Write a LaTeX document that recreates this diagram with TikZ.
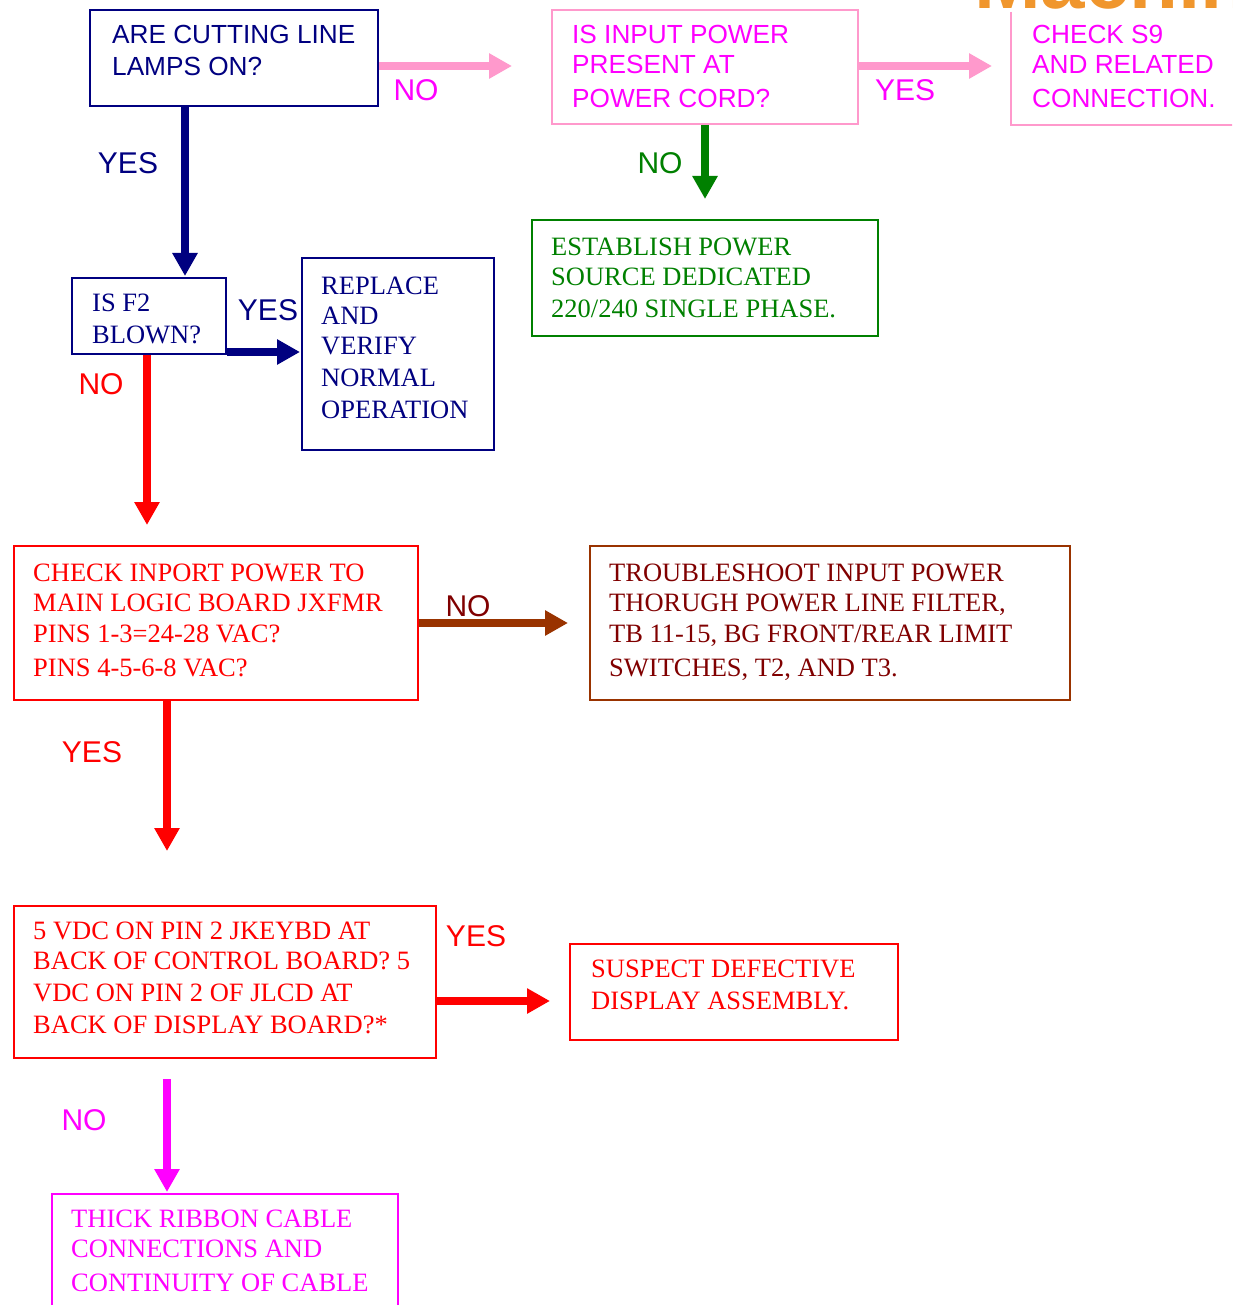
\documentclass[tikz,border=0pt]{standalone}
\usepackage{fontspec}
\setmainfont{Liberation Serif}
\setsansfont{Liberation Sans}
\usetikzlibrary{arrows.meta,calc}
\definecolor{navyc}{HTML}{000080}
\definecolor{pinkc}{HTML}{FF99CC}
\definecolor{magc}{HTML}{FF00FF}
\definecolor{greenc}{HTML}{008000}
\definecolor{redc}{HTML}{FF0000}
\definecolor{brownc}{HTML}{993300}
\definecolor{dredc}{HTML}{800000}
\definecolor{orangec}{HTML}{F0962D}
\begin{document}
\begin{tikzpicture}[x=1pt,y=-1pt,
  box/.style={draw=#1, line width=2pt, rectangle, inner sep=0pt, anchor=north west},
  txt/.style={anchor=north west, inner sep=0pt, align=left, text=#1},
  sans/.style={font=\sffamily\fontsize{26.2}{30}\selectfont},
  serif/.style={font=\rmfamily\fontsize{26.5}{30}\selectfont},
  lbl/.style={font=\sffamily\fontsize{30}{30}\selectfont, text=#1, inner sep=0pt},
  arr/.style={line width=8pt, draw=#1, -{Triangle[length=23pt,width=24pt]}}
]
\useasboundingbox (0,0) rectangle (1232,1305);
\begin{scope}
\clip (0,0) rectangle (1232,1305);
\node[font=\sffamily\bfseries\fontsize{80}{80}\selectfont, text=orangec, anchor=base west, inner sep=0pt] (logo) at (974,9) {Machine};

% boxes
\node[box=navyc, minimum width=288pt, minimum height=96pt] (A) at (89,9) {};
\node[box=pinkc, minimum width=306pt, minimum height=114pt] (B) at (551,9) {};
\node[box=none, draw=none, minimum width=240pt, minimum height=111pt] (C) at (1011,12) {};
\draw[pinkc, line width=2pt] (C.north west) -- (C.south west) -- (C.south east);
\node[box=greenc, minimum width=346pt, minimum height=116pt] (D) at (531,219) {};
\node[box=navyc, minimum width=154pt, minimum height=76pt] (E) at (71,277) {};
\node[box=navyc, minimum width=192pt, minimum height=192pt] (F) at (301,257) {};
\node[box=redc, minimum width=404pt, minimum height=154pt] (G) at (13,545) {};
\node[box=brownc, minimum width=480pt, minimum height=154pt] (H) at (589,545) {};
\node[box=redc, minimum width=422pt, minimum height=152pt] (I) at (13,905) {};
\node[box=redc, minimum width=328pt, minimum height=96pt] (J) at (569,943) {};
\node[box=magc, minimum width=346pt, minimum height=130pt] (K) at (51,1193) {};

% texts
\node[txt=navyc, sans] (At) at (112,25) {ARE CUTTING LINE\\[2pt]LAMPS ON?};
\node[txt=magc, sans] (Bt) at (572,25) {IS INPUT POWER\\PRESENT AT\\[4pt]POWER CORD?};
\node[txt=magc, sans] (Ct) at (1032,25) {CHECK S9\\AND RELATED\\[4pt]CONNECTION.};
\node[txt=greenc, serif] (Dt) at (551,238) {ESTABLISH POWER\\SOURCE DEDICATED\\[2pt]220/240 SINGLE PHASE.};
\node[txt=navyc, serif] (Et) at (92,294) {IS F2\\[2pt]BLOWN?};
\node[txt=navyc, serif] (Ft) at (321,277) {REPLACE\\AND\\VERIFY\\[2pt]NORMAL\\[2pt]OPERATION};
\node[txt=redc, serif] (Gt) at (33,564) {CHECK INPORT POWER TO\\MAIN LOGIC BOARD JXFMR\\[1pt]PINS 1-3=24-28 VAC?\\[4pt]PINS 4-5-6-8 VAC?};
\node[txt=dredc, serif] (Ht) at (609,564) {TROUBLESHOOT INPUT POWER\\THORUGH POWER LINE FILTER,\\[1pt]TB 11-15, BG FRONT/REAR LIMIT\\[4pt]SWITCHES, T2, AND T3.};
\node[txt=redc, serif] (It) at (33,922) {5 VDC ON PIN 2 JKEYBD AT\\BACK OF CONTROL BOARD? 5\\[2pt]VDC ON PIN 2 OF JLCD AT\\[2pt]BACK OF DISPLAY BOARD?*};
\node[txt=redc, serif] (Jt) at (591,960) {SUSPECT DEFECTIVE\\[2pt]DISPLAY ASSEMBLY.};
\node[txt=magc, serif] (Kt) at (71,1210) {THICK RIBBON CABLE\\CONNECTIONS AND\\[4pt]CONTINUITY OF CABLE};

% reference coordinates for connector lines
\coordinate (yAB) at (0,66);
\coordinate (xBD) at (705,0);
\coordinate (xAE) at (185,0);
\coordinate (yEF) at (0,352);
\coordinate (xEG) at (147,0);
\coordinate (yGH) at (0,623);
\coordinate (xGI) at (167,0);
\coordinate (yIJ) at (0,1001);

% connectors
\draw[arr=pinkc, shorten >=39pt] (A.east |- yAB) -- (B.west |- yAB);
\draw[arr=pinkc, shorten >=19pt] (B.east |- yAB) -- (C.west |- yAB);
\draw[arr=greenc, shorten >=20pt] (B.south -| xBD) -- (D.north -| xBD);
\draw[arr=navyc, shorten >=1pt] (A.south -| xAE) -- (E.north -| xAE);
\draw[arr=navyc, shorten >=1pt] (E.east |- yEF) -- (F.west |- yEF);
\draw[arr=redc, shorten >=20pt] (E.south -| xEG) -- (G.north -| xEG);
\draw[arr=brownc, shorten >=21pt] (G.east |- yGH) -- (H.west |- yGH);
\draw[arr=redc, shorten >=54pt] (G.south -| xGI) -- (I.north -| xGI);
\draw[arr=redc, shorten >=19pt] (I.east |- yIJ) -- (J.west |- yIJ);
\draw[arr=magc, shorten <=20pt, shorten >=1pt] (I.south -| xGI) -- (K.north -| xGI);

% labels
\node[lbl=magc] (l1) at (416,90) {NO};
\node[lbl=magc] (l2) at (905,90) {YES};
\node[lbl=greenc] (l3) at (660,163) {NO};
\node[lbl=navyc] (l4) at (128,163) {YES};
\node[lbl=navyc] (l5) at (268,310) {YES};
\node[lbl=redc] (l6) at (101,384) {NO};
\node[lbl=dredc] (l7) at (468,606) {NO};
\node[lbl=redc] (l8) at (92,752) {YES};
\node[lbl=redc] (l9) at (476,936) {YES};
\node[lbl=magc] (l10) at (84,1120) {NO};
\end{scope}
\end{tikzpicture}
\end{document}
